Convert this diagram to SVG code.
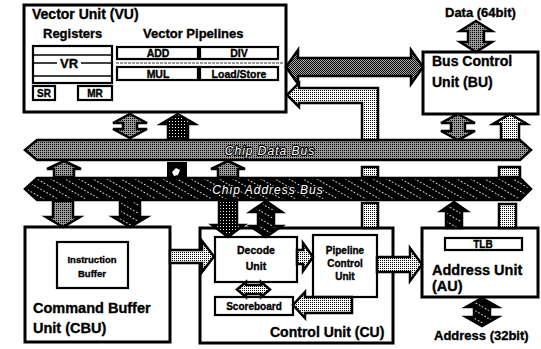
<svg xmlns="http://www.w3.org/2000/svg" width="541" height="349" viewBox="0 0 541 349">
<defs>
<pattern id="lt" width="2" height="2" patternUnits="userSpaceOnUse"><rect width="2" height="2" fill="#fff"/><rect width="1" height="1" fill="#000"/></pattern>
<pattern id="md" width="2" height="2" patternUnits="userSpaceOnUse"><rect width="2" height="2" fill="#999"/><rect width="1" height="1" fill="#000"/></pattern>
<pattern id="sd" width="2" height="2" patternUnits="userSpaceOnUse"><rect width="2" height="2" fill="#aaa"/><rect width="1" height="1" fill="#000"/><rect x="1" y="1" width="1" height="1" fill="#000"/></pattern>
<pattern id="dk" width="3" height="3" patternUnits="userSpaceOnUse"><rect width="3" height="3" fill="#000"/><rect x="1" y="1" width="1" height="1" fill="#fff"/></pattern>
<pattern id="ht" width="7" height="7" patternUnits="userSpaceOnUse" patternTransform="rotate(30)"><rect width="7" height="7" fill="#000"/><line x1="0" y1="3.5" x2="7" y2="3.5" stroke="#fff" stroke-width="1.2" stroke-dasharray="1.5 2"/></pattern>
</defs>
<style>
.box{fill:#fff;stroke:#000;stroke-width:3}
.sub{fill:#fff;stroke:#000;stroke-width:2.2}
.ar{stroke:#000;stroke-width:2.5;stroke-linejoin:miter}
.t{font-family:"Liberation Sans",Arial,sans-serif;font-weight:bold;fill:#000;stroke:#000;stroke-width:0.35}
.bus{font-family:"Liberation Sans",Arial,sans-serif;font-style:italic;fill:#fff;stroke:#000;stroke-width:2;paint-order:stroke;font-size:12px;letter-spacing:1px}
</style>
<rect width="541" height="349" fill="#fff"/>

<g id="vu">
<rect class="box" x="24" y="5" width="262" height="107"/>
<text class="t" x="32" y="19" font-size="14">Vector Unit  (VU)</text>
<text class="t" x="43" y="38" font-size="13">Registers</text>
<text class="t" x="143" y="38" font-size="13">Vector Pipelines</text>
<rect class="sub" x="33" y="46" width="79" height="37"/>
<line x1="33" y1="55" x2="112" y2="55" stroke="#000" stroke-width="1.5"/>
<line x1="33" y1="76" x2="112" y2="76" stroke="#000" stroke-width="1.5"/>
<line x1="33" y1="63" x2="57" y2="63" stroke="#000" stroke-width="1.5"/>
<line x1="81" y1="63" x2="112" y2="63" stroke="#000" stroke-width="1.5"/>
<text class="t" x="69" y="68" font-size="13" text-anchor="middle" font-weight="normal">VR</text>
<rect class="sub" x="33" y="86" width="22" height="14"/>
<text class="t" x="44" y="97" font-size="10" text-anchor="middle">SR</text>
<rect class="sub" x="78" y="86" width="34" height="14"/>
<text class="t" x="95" y="97" font-size="10" text-anchor="middle">MR</text>
<rect class="sub" x="117" y="47" width="81" height="12"/>
<text class="t" x="158" y="57" font-size="10.5" text-anchor="middle">ADD</text>
<rect class="sub" x="200" y="47" width="78" height="12"/>
<text class="t" x="239" y="57" font-size="10.5" text-anchor="middle">DIV</text>
<line x1="116" y1="63" x2="284" y2="63" stroke="#777" stroke-width="1.5" stroke-dasharray="3 1"/>
<rect class="sub" x="117" y="67" width="81" height="13"/>
<text class="t" x="158" y="78" font-size="10.5" text-anchor="middle">MUL</text>
<rect class="sub" x="200" y="67" width="78" height="13"/>
<text class="t" x="239" y="78" font-size="10.5" text-anchor="middle">Load/Store</text>
</g>

<g id="bu">
<rect class="box" x="423" y="52" width="115" height="62"/>
<text class="t" x="432" y="66" font-size="14">Bus Control</text>
<text class="t" x="432" y="87" font-size="14">Unit  (BU)</text>
<text class="t" x="445" y="17" font-size="13">Data (64bit)</text>
</g>

<g id="databus">
<polygon class="ar" points="25,150 37,140 520,140 531,150 520,160 37,160" fill="url(#md)"/>
<text class="bus" x="270" y="155" text-anchor="middle">Chip Data Bus</text>
</g>
<g id="addrbus">
<polygon class="ar" points="25,189 37,178 520,178 531,189 520,200 37,200" fill="url(#ht)"/>
<text class="bus" x="268" y="194" text-anchor="middle">Chip Address Bus</text>
</g>

<g id="cbu">
<rect class="box" x="25" y="227" width="145" height="115"/>
<rect class="sub" x="57" y="242" width="71" height="46"/>
<text class="t" x="92" y="263" font-size="9.5" text-anchor="middle">Instruction</text>
<text class="t" x="92" y="277" font-size="9.5" text-anchor="middle">Buffer</text>
<text class="t" x="33" y="313" font-size="14.5">Command Buffer</text>
<text class="t" x="33" y="333" font-size="14.5">Unit  (CBU)</text>
</g>

<g id="cu">
<rect class="box" x="200" y="228" width="193" height="115"/>
<text class="t" x="270" y="337" font-size="14">Control Unit  (CU)</text>
</g>
<g id="decode">
<rect class="sub" x="215" y="237" width="82" height="45"/>
<text class="t" x="256" y="254" font-size="10.5" text-anchor="middle">Decode</text>
<text class="t" x="256" y="270" font-size="10.5" text-anchor="middle">Unit</text>
</g>
<g id="pipeline">
<rect class="sub" x="313" y="235" width="64" height="62"/>
<text class="t" x="345" y="254" font-size="10" text-anchor="middle">Pipeline</text>
<text class="t" x="345" y="267" font-size="10" text-anchor="middle">Control</text>
<text class="t" x="345" y="280" font-size="10" text-anchor="middle">Unit</text>
</g>
<g id="scoreboard">
<rect class="sub" x="215" y="297" width="78" height="18"/>
<text class="t" x="254" y="310" font-size="10" text-anchor="middle">Scoreboard</text>
</g>

<g id="au">
<rect class="box" x="422" y="228" width="116" height="69"/>
<rect class="sub" x="445" y="238" width="77" height="12"/>
<text class="t" x="483" y="248" font-size="10" text-anchor="middle">TLB</text>
<text class="t" x="432" y="275" font-size="14.5">Address Unit</text>
<text class="t" x="432" y="291" font-size="14.5">(AU)</text>
<text class="t" x="434" y="340" font-size="13">Address (32bit)</text>
</g>

<g id="connectors">
<polygon class="ar" points="286,67 298,50 298,58 411,58 411,50 423,67 411,84 411,76 298,76 298,84" fill="url(#sd)"/>
<polygon class="ar" points="287,95 299,83 299,88 378,88 378,140 362,140 362,103 299,103 299,107" fill="url(#lt)"/>
<polygon class="ar" points="476,21 492,31 484,31 484,42 492,42 476,52 460,42 468,42 468,31 460,31" fill="url(#md)"/>
<polygon class="ar" points="130,114 147,123 137,123 137,129 147,129 130,138 113,129 123,129 123,123 113,123" fill="url(#md)"/>
<polygon class="ar" points="178,114 195,124 188,124 188,139 168,139 168,124 161,124" fill="url(#dk)"/>
<polygon class="ar" points="458,114 475,123 465,123 465,131 475,131 458,140 441,131 451,131 451,123 441,123" fill="url(#md)"/>
<polygon class="ar" points="510,114 527,124 519,124 519,140 501,140 501,124 493,124" fill="url(#lt)"/>
<polygon class="ar" points="64,161 81,169 74,169 74,177 54,177 54,169 47,169" fill="url(#md)"/>
<polygon class="ar" points="228,161 245,169 238,169 238,177 218,177 218,169 211,169" fill="url(#md)"/>
<rect x="167" y="162" width="20" height="16" fill="#000"/>
<polygon points="172,172 176,168 180,170 178,175 174,176" fill="#fff"/>
<rect class="ar" x="362" y="167" width="16" height="10" fill="url(#lt)"/>
<rect class="ar" x="499" y="167" width="21" height="10" fill="url(#lt)"/>
<polygon class="ar" points="53,201 73,201 73,217 80,217 63,227 46,217 53,217" fill="url(#md)"/>
<polygon class="ar" points="120,201 140,201 140,217 147,217 130,227 113,217 120,217" fill="url(#ht)"/>
<polygon class="ar" points="219,201 237,201 237,225 244,225 228,237 212,225 219,225" fill="url(#dk)"/>
<polygon class="ar" points="266,201 282,212 274,212 274,226 282,226 266,237 250,226 258,226 258,212 250,212" fill="url(#ht)"/>
<rect class="ar" x="362" y="203" width="16" height="25" fill="url(#lt)"/>
<polygon class="ar" points="454,202 467,211 462,211 462,228 446,228 446,211 441,211" fill="url(#ht)"/>
<rect class="ar" x="499" y="204" width="17" height="24" fill="url(#lt)"/>
<polygon class="ar" points="482,298 498,307 490,307 490,317 498,317 482,326 466,317 474,317 474,307 466,307" fill="url(#ht)"/>
<polygon class="ar" points="170,250 202,250 202,241 214,256.5 202,272 202,263 170,263" fill="url(#lt)"/>
<polygon class="ar" points="297,250 303,250 303,243 313,257 303,271 303,264 297,264" fill="url(#lt)"/>
<polygon class="ar" points="377,257 410,257 410,248 422,264.5 410,281 410,272 377,272" fill="url(#lt)"/>
<polygon class="ar" points="352,297 352,313 305,313 305,318 293,305 305,292 305,297" fill="url(#lt)"/>
<polygon class="ar" points="237,289.5 246,282 246,285 261,285 261,282 270,289.5 261,297 261,294 246,294 246,297" fill="url(#lt)"/>
</g>
</svg>
